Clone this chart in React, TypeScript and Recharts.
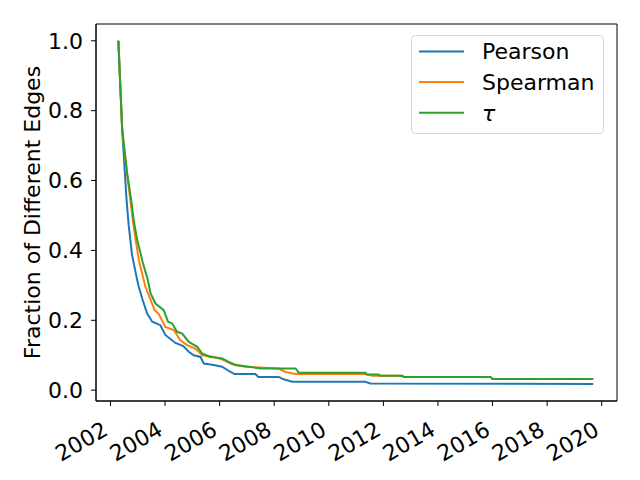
import { LineChart, Line, XAxis, YAxis, ReferenceArea } from 'recharts'

const pearsonYears = [2002.29, 2002.43, 2002.59, 2002.67, 2002.79, 2002.98, 2003.04, 2003.18, 2003.34, 2003.53, 2003.83, 2004.01, 2004.38, 2004.67, 2004.87, 2005.05, 2005.3, 2005.42, 2005.78, 2006.09, 2006.4, 2006.55, 2007.31, 2007.42, 2008.17, 2008.34, 2008.66, 2011.34, 2011.52, 2019.69]
const pearsonValues = [1.0, 0.745, 0.544, 0.47, 0.387, 0.315, 0.295, 0.258, 0.22, 0.196, 0.186, 0.158, 0.135, 0.126, 0.11, 0.1, 0.095, 0.076, 0.072, 0.067, 0.052, 0.046, 0.046, 0.038, 0.038, 0.031, 0.024, 0.024, 0.019, 0.018]

const spearmanYears = [2002.29, 2002.43, 2002.59, 2002.73, 2002.84, 2002.97, 2003.04, 2003.28, 2003.62, 2003.77, 2004.01, 2004.32, 2004.56, 2004.81, 2005.11, 2005.36, 2005.85, 2006.15, 2006.46, 2006.95, 2008.17, 2008.41, 2008.78, 2011.34, 2011.6, 2012.68, 2012.75, 2015.92, 2016.0, 2019.69]
const spearmanValues = [1.0, 0.745, 0.63, 0.544, 0.473, 0.407, 0.372, 0.296, 0.229, 0.218, 0.181, 0.172, 0.143, 0.129, 0.119, 0.1, 0.094, 0.086, 0.074, 0.067, 0.062, 0.052, 0.046, 0.046, 0.041, 0.041, 0.038, 0.038, 0.032, 0.032]

const tauYears = [2002.29, 2002.43, 2002.62, 2002.76, 2002.85, 2002.98, 2003.1, 2003.16, 2003.37, 2003.47, 2003.65, 2003.95, 2004.11, 2004.26, 2004.44, 2004.63, 2004.87, 2005.18, 2005.36, 2005.66, 2006.09, 2006.33, 2006.58, 2007.07, 2007.49, 2008.78, 2008.9, 2011.34, 2011.4, 2011.83, 2011.88, 2012.68, 2012.75, 2015.92, 2016.0, 2019.69]
const tauValues = [1.0, 0.745, 0.616, 0.544, 0.487, 0.43, 0.393, 0.372, 0.315, 0.277, 0.248, 0.229, 0.196, 0.191, 0.167, 0.162, 0.138, 0.124, 0.105, 0.095, 0.091, 0.081, 0.072, 0.067, 0.062, 0.062, 0.05, 0.05, 0.045, 0.045, 0.041, 0.041, 0.038, 0.038, 0.032, 0.032]

const xTicks = [2002, 2004, 2006, 2008, 2010, 2012, 2014, 2016, 2018, 2020]
const yTicks = [0, 0.2, 0.4, 0.6, 0.8, 1.0]
const xDomain = [2001.47, 2020.56]
const yDomain = [-0.031, 1.048]

const series = [
  { name: 'Pearson', years: pearsonYears, values: pearsonValues, color: '#1f77b4' },
  { name: 'Spearman', years: spearmanYears, values: spearmanValues, color: '#ff7f0e' },
  { name: 'τ', years: tauYears, values: tauValues, color: '#2ca02c' },
]

const font = '"DejaVu Sans", sans-serif'

function XTick({ x, y, payload }: any) {
  const tx = x - 1
  const ty = y + 26
  return (
    <text x={tx} y={ty} textAnchor="end" fontSize={22} fontFamily={font} fill="#000" transform={`rotate(-30, ${tx}, ${ty})`}>
      {payload.value}
    </text>
  )
}

// legend drawn as an overlay so it does not take room from the plot
function LegendBox() {
  return (
    <svg width={194} height={100} style={{ position: 'absolute', left: 411, top: 35 }}>
      <rect x={0.5} y={0.5} width={192} height={98} rx={4} fill="rgba(255,255,255,0.8)" stroke="#d6d6d6" />
      {series.map((s, i) => (
        <g key={s.name}>
          <line x1={8} x2={53} y1={16.5 + i * 30.6} y2={16.5 + i * 30.6} stroke={s.color} strokeWidth={2} />
          <text x={71} y={16.5 + i * 30.6} dy="0.36em" fontSize={22} fontFamily={font} fill="#000" fontStyle={i === 2 ? 'italic' : 'normal'}>
            {s.name}
          </text>
        </g>
      ))}
    </svg>
  )
}

export default function App() {
  return (
    <div style={{ position: 'relative', width: 640, height: 480, background: '#fff' }}>
      <style>{'body{margin:0}'}</style>
      <LineChart width={640} height={480} margin={{ top: 24, right: 23, left: 0, bottom: 0 }}>
        <XAxis
          type="number"
          dataKey="year"
          domain={xDomain}
          ticks={xTicks}
          allowDataOverflow
          height={79}
          stroke="#000"
          tickSize={5}
          tick={<XTick />}
        />
        <YAxis
          type="number"
          domain={yDomain}
          ticks={yTicks}
          allowDataOverflow
          width={96}
          stroke="#000"
          tickSize={5}
          tickMargin={8}
          tickFormatter={(v: number) => v.toFixed(1)}
          tick={{ fontSize: 22, fontFamily: font, fill: '#000' }}
          label={{
            content: () => (
              <text x={40} y={212.5} textAnchor="middle" fontSize={22} fontFamily={font} fill="#000" transform="rotate(-90, 40, 212.5)">
                Fraction of Different Edges
              </text>
            ),
          }}
        />
        <ReferenceArea x1={xDomain[0]} x2={xDomain[1]} y1={yDomain[0]} y2={yDomain[1]} fill="none" stroke="#000" strokeWidth={1} />
        {series.map((s) => (
          <Line
            key={s.name}
            data={s.years.map((year, i) => ({ year, value: s.values[i] }))}
            dataKey="value"
            name={s.name}
            type="linear"
            stroke={s.color}
            strokeWidth={2}
            dot={false}
            isAnimationActive={false}
          />
        ))}
      </LineChart>
      <LegendBox />
    </div>
  )
}
